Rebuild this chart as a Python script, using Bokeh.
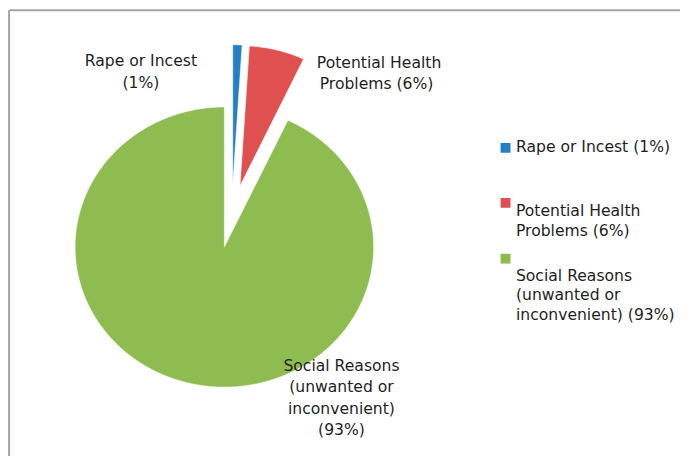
import numpy as np
from bokeh.plotting import figure
from bokeh.models import Range1d
from bokeh.core.properties import value
from bokeh.embed import file_html
from bokeh.resources import INLINE

# ---- data ----
categories = ["Rape or Incest", "Potential Health Problems",
              "Social Reasons (unwanted or inconvenient)"]
percent = [1, 6, 93]
colors = ["#2580C3", "#E05050", "#8FBC51"]
pie_label_lines = [["Rape or Incest", "(1%)"],
                   ["Potential Health", "Problems  (6%)"],
                   ["Social Reasons", "(unwanted or", "inconvenient)", "(93%)"]]
legend_lines = [["Rape or Incest  (1%)"],
                ["Potential Health", "Problems  (6%)"],
                ["Social Reasons", "(unwanted or", "inconvenient) (93%)"]]

# ---- layout (data space spans the 688x464 reference, y grows downward) ----
W, H = 680, 456
DW, DH = 688, 464
CX, CY = 233.9, 219.6
RX, RY = 151.0, 142.5
EXPLODE = 0.225
FONT = "DejaVu Sans"
FS = "15.6px"
TXT = "#1e1e1e"

p = figure(width=W, height=H, output_backend="svg", toolbar_location=None,
           x_range=Range1d(0, DW), y_range=Range1d(DH, 0),
           x_axis_type=None, y_axis_type=None, min_border=0,
           background_fill_color="white", border_fill_color="white")
p.outline_line_color = None
p.grid.visible = False

# chart area frame (top and left edges visible)
p.line(x=[8.7, DW], y=[10, 10], line_color="#a3a3a3", line_width=2)
p.line(x=[8.7, 8.7], y=[10, DH], line_color="#a3a3a3", line_width=2)

# ---- pie slices from the values ----
vals = np.array(percent, dtype=float)
frac = vals / vals.sum()
ends = np.cumsum(frac) * 2 * np.pi
starts = ends - frac * 2 * np.pi
xs, ys = [], []
for a0, a1 in zip(starts, ends):
    am = 0.5 * (a0 + a1)
    ox = CX + EXPLODE * RX * np.sin(am)
    oy = CY - EXPLODE * RY * np.cos(am)
    t = np.linspace(a0, a1, max(int((a1 - a0) * 90), 4))
    px = np.concatenate([[ox], ox + RX * np.sin(t), [ox]])
    py = np.concatenate([[oy], oy - RY * np.cos(t), [oy]])
    xs.append(list(px))
    ys.append(list(py))
p.patches(xs=xs, ys=ys, fill_color=colors, line_color="white", line_width=0.5)

# ---- data labels ----
label_anchor = [(142, 61.7), (383, 63.2), (345, 371.7)]
label_step = 21.9
lx, ly, lt = [], [], []
for (ax, ay), lines in zip(label_anchor, pie_label_lines):
    for i, s in enumerate(lines):
        lx.append(ax)
        ly.append(ay + i * label_step)
        lt.append(s)
p.text(x=lx, y=ly, text=lt, text_align="center", text_baseline="alphabetic",
       text_font=value(FONT), text_font_size=FS, text_color=TXT)

# ---- legend ----
sq_x, sq_y = 511, [150, 206, 262.7]
p.rect(x=[sq_x] * 3, y=sq_y, width=10, height=10, fill_color=colors,
       line_color=None)
text_x = 521.5
text_base = [149.3, 214.5, 280]
legend_step = 20
gx, gy, gt = [], [], []
for b, lines in zip(text_base, legend_lines):
    for i, s in enumerate(lines):
        gx.append(text_x)
        gy.append(b + i * legend_step)
        gt.append(s)
p.text(x=gx, y=gy, text=gt, text_align="left", text_baseline="alphabetic",
       text_font=value(FONT), text_font_size=FS, text_color=TXT)

open("out.html", "w").write(file_html(p, INLINE))
